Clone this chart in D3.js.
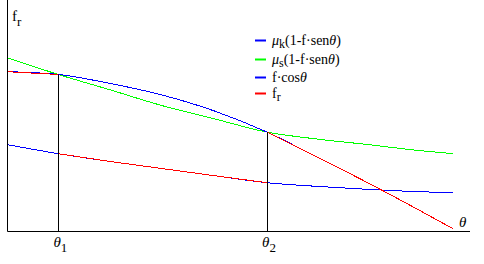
<!DOCTYPE html>
<html>
<head>
<style>
  body { margin: 0; background: #fff; }
  svg { display: block; }
  .curve { fill: none; stroke-width: 1; shape-rendering: crispEdges; }
</style>
</head>
<body>
<div id="chart"></div>
<script src="https://cdnjs.cloudflare.com/ajax/libs/d3/7.8.5/d3.min.js"></script>
<script>
// theta samples (degrees); theta1 and theta2 are the crossing points
const theta1 = 9.9;
const theta2 = 50.5;
const thetas = [0, 9.9, 20, 30, 40, 50.5, 60, 70, 80, 86.7];

// values (arbitrary units)
const muK = [0.434, 0.389, 0.350, 0.315, 0.280, 0.244, 0.226, 0.211, 0.199, 0.194];
const muS = [0.869, 0.785, 0.708, 0.630, 0.565, 0.497, 0.463, 0.435, 0.405, 0.389];
const fCos = [0.799, 0.785, 0.740, 0.683, 0.605, 0.497, 0.375, 0.245, 0.108, 0.014];

const width = 484, height = 264;
const serif = "Liberation Serif, Times New Roman, serif";

const svg = d3.select("#chart").append("svg")
  .attr("width", width)
  .attr("height", height)
  .attr("font-family", serif);

const x = d3.scaleLinear().domain([0, 90]).range([7.5, 470]);
const y = d3.scaleLinear().domain([0, 1.1575]).range([231.5, 0]);

const line = d3.line()
  .x(d => x(d[0]))
  .y(d => y(d[1]))
  .curve(d3.curveMonotoneX);

function pts(vals, from, to) {
  return thetas.map((t, i) => [t, vals[i]])
    .filter(d => d[0] >= from && d[0] <= to);
}

// fr: static (f cos) up to theta1, kinetic between theta1 and theta2, static again after
const frSegments = [
  pts(fCos, 0, theta1),
  pts(muK, theta1, theta2),
  pts(fCos, theta2, 90)
];

const series = [
  { name: "muK", color: "#0000ff", segs: [pts(muK, 0, 90)] },
  { name: "muS", color: "#00ff00", segs: [pts(muS, 0, 90)] },
  { name: "fCos", color: "#0000ff", segs: [pts(fCos, 0, 90)] },
  { name: "fr", color: "#ff0000", segs: frSegments }
];

series.forEach(s => {
  s.segs.forEach(seg => {
    svg.append("path")
      .attr("class", "curve")
      .attr("stroke", s.color)
      .attr("d", line(seg));
  });
});

// vertical markers at theta1, theta2
[[theta1, muS[1]], [theta2, muS[5]]].forEach(([t, v]) => {
  svg.append("line")
    .attr("x1", Math.round(x(t)) + 0.5).attr("x2", Math.round(x(t)) + 0.5)
    .attr("y1", y(0)).attr("y2", y(v))
    .attr("stroke", "#000").attr("stroke-width", 1);
});

// axes
svg.append("line")
  .attr("x1", x(0)).attr("x2", x(0))
  .attr("y1", 0).attr("y2", y(0))
  .attr("stroke", "#000").attr("stroke-width", 1);
svg.append("line")
  .attr("x1", x(0)).attr("x2", x(90))
  .attr("y1", y(0)).attr("y2", y(0))
  .attr("stroke", "#000").attr("stroke-width", 1);

// axis labels
function label(px, py, main, sub, italic) {
  const t = svg.append("text")
    .attr("x", px).attr("y", py)
    .attr("font-family", serif)
    .attr("font-size", 15);
  t.append("tspan").text(main).attr("font-style", italic ? "italic" : null);
  if (sub) t.append("tspan").text(sub).attr("dy", 5).attr("font-size", 13);
  return t;
}
label(12, 21, "f", "r", false);
label(459, 227, "θ", null, true);
label(x(theta1) - 5, 247, "θ", "1", true);
label(x(theta2) - 5, 247, "θ", "2", true);

// legend
const legendItems = [
  { color: "#0000ff", parts: [["μ", "i"], ["k", "sub"], ["(1-f·sen", ""], ["θ", "i"], [")", ""]] },
  { color: "#00ff00", parts: [["μ", "i"], ["s", "sub"], ["(1-f·sen", ""], ["θ", "i"], [")", ""]] },
  { color: "#0000ff", parts: [["f·cos", ""], ["θ", "i"]] },
  { color: "#ff0000", parts: [["f", ""], ["r", "sub"]] }
];
const legendY = [40, 59, 77, 93];

legendItems.forEach((item, i) => {
  const ly = legendY[i];
  svg.append("line")
    .attr("x1", 255).attr("x2", 266)
    .attr("y1", ly + 0.5).attr("y2", ly + 0.5)
    .attr("stroke", item.color).attr("stroke-width", 2);
  const t = svg.append("text")
    .attr("x", 272).attr("y", ly + 4.5)
    .attr("font-family", serif)
    .attr("font-size", 14);
  let down = false;
  item.parts.forEach(([txt, kind]) => {
    const ts = t.append("tspan").text(txt);
    if (kind === "i") ts.attr("font-style", "italic");
    if (kind === "sub") {
      ts.attr("dy", 3).attr("font-size", 12);
      down = true;
    } else if (down) {
      ts.attr("dy", -3);
      down = false;
    }
  });
});
</script>
</body>
</html>
